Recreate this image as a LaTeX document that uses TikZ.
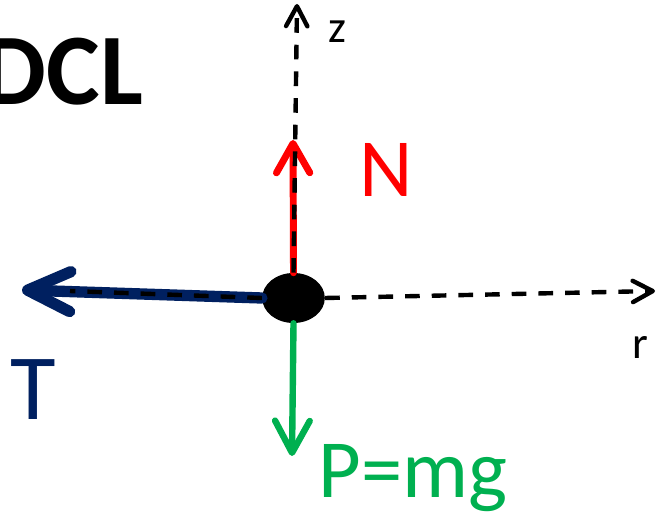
\documentclass[tikz,border=0pt]{standalone}
\usepackage{fontspec}
\setmainfont{Carlito}
\usepackage{tikz}
\usetikzlibrary{arrows.meta,shapes.geometric}
\definecolor{forcered}{HTML}{FF0000}
\definecolor{forcenavy}{HTML}{002060}
\definecolor{forcegreen}{HTML}{00B050}
\tikzset{
  axis/.style={line width=3.3pt,dash pattern=on 11pt off 9pt,
      -{Straight Barb[round,length=15pt,width=16pt]}},
  force/.style={line cap=round},
  lbl/.style={inner sep=0pt},
}

\begin{document}
\begin{tikzpicture}[x=0.75pt,y=-0.75pt]
  \useasboundingbox (0,0) rectangle (658,516);
  \node[ellipse,fill=black,minimum width=47pt,minimum height=37.5pt,inner sep=0pt] (dot) at (293.5,298) {};
  \coordinate (zend) at (297,4);
  \coordinate (rend) at (655,291);
  \coordinate (rstart) at (70,291);
  \coordinate (Nend) at (293,140);
  \coordinate (Tend) at (22,290);
  \coordinate (Pend) at (292,456);
  \draw[force,forcered,line width=5.2pt,-{Straight Barb[round,length=22pt,width=25pt]}] (dot.north) -- (Nend);
  \draw[force,forcenavy,line width=8.5pt,-{Straight Barb[round,length=32pt,width=30pt]}] (dot.west) -- (Tend);
  \draw[force,forcegreen,line width=4.8pt,-{Straight Barb[round,length=24pt,width=26pt]}] (dot.south) -- (Pend);
  \draw[axis] (dot.north) -- (zend);
  \draw[axis] (dot.east) -- (rend);
  \draw[line width=3.3pt,dash pattern=on 11pt off 9pt] (dot.west) -- (rstart);
  \node[lbl,font=\bfseries\fontsize{76}{76}\selectfont] (title) at (63,72) {DCL};
  \node[lbl,font=\fontsize{34}{34}\selectfont] (zlbl) at (337,32) {z};
  \node[lbl,font=\fontsize{34}{34}\selectfont] (rlbl) at (640,347) {r};
  \node[lbl,forcered,font=\fontsize{62}{62}\selectfont] (Nlbl) at (386,170) {N};
  \node[lbl,forcenavy,font=\fontsize{70}{70}\selectfont] (Tlbl) at (33,390) {T};
  \node[lbl,forcegreen,font=\fontsize{62}{62}\selectfont,anchor=base west] (Plbl) at (318,498) {P=mg};
\end{tikzpicture}
\end{document}
